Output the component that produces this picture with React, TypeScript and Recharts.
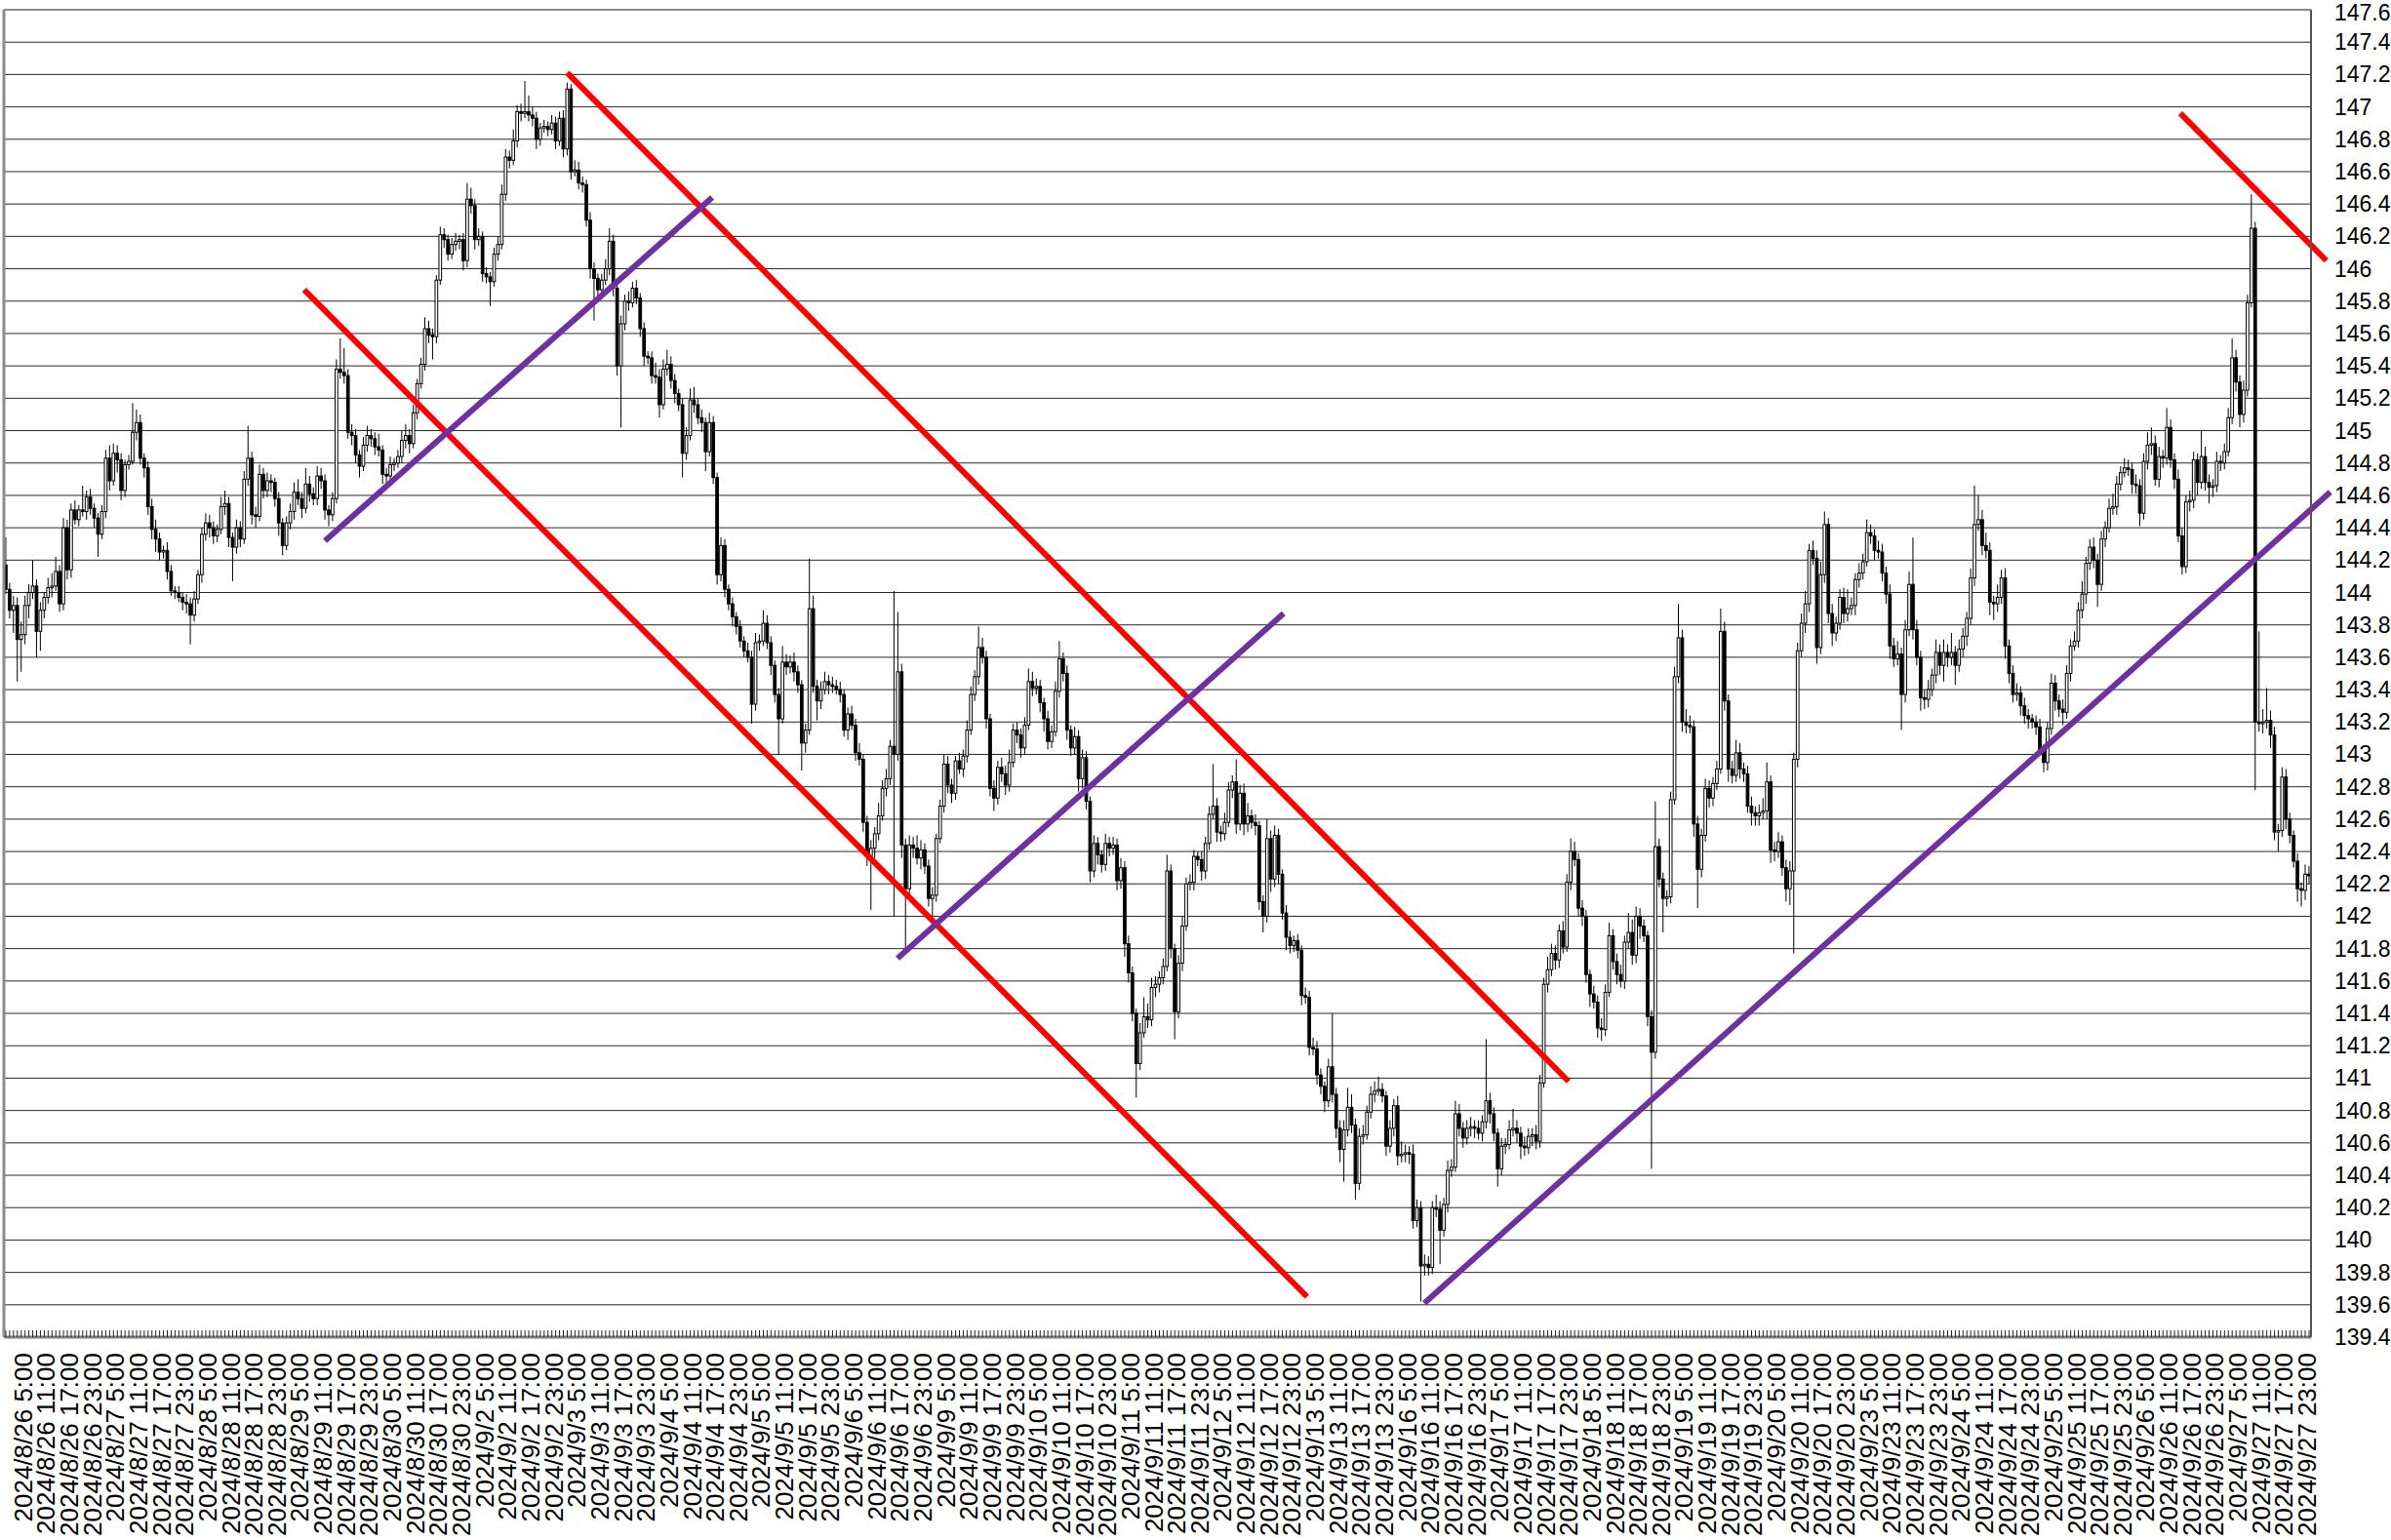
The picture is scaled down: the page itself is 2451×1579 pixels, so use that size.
import { Bar, CartesianGrid, ComposedChart, ReferenceLine, XAxis, YAxis } from "recharts"

// trading days shown on the axis, 24 hourly candles each
const dayLabels = [
  "2024/8/26", "2024/8/27", "2024/8/28", "2024/8/29", "2024/8/30",
  "2024/9/2", "2024/9/3", "2024/9/4", "2024/9/5", "2024/9/6",
  "2024/9/9", "2024/9/10", "2024/9/11", "2024/9/12", "2024/9/13",
  "2024/9/16", "2024/9/17", "2024/9/18", "2024/9/19", "2024/9/20",
  "2024/9/23", "2024/9/24", "2024/9/25", "2024/9/26", "2024/9/27",
]
const labelHours = [5, 11, 17, 23]

const firstOpen = 144.17

// hourly closes, one row per day
const closes = [
  [144.02, 143.89, 143.92, 143.71, 143.74, 143.92, 144.0, 144.04, 143.76, 143.89, 143.97, 144.03, 144.04, 144.13, 143.93, 144.4, 144.14, 144.51, 144.45, 144.51, 144.5, 144.59, 144.52, 144.46],
  [144.36, 144.5, 144.83, 144.69, 144.86, 144.82, 144.63, 144.79, 144.81, 144.99, 145.05, 144.83, 144.77, 144.53, 144.39, 144.33, 144.25, 144.26, 144.13, 144.01, 144.0, 143.97, 143.94, 143.93],
  [143.86, 143.96, 144.11, 144.36, 144.43, 144.4, 144.35, 144.39, 144.53, 144.55, 144.34, 144.28, 144.4, 144.33, 144.7, 144.83, 144.48, 144.47, 144.73, 144.63, 144.69, 144.68, 144.58, 144.43],
  [144.29, 144.43, 144.5, 144.62, 144.58, 144.52, 144.67, 144.61, 144.58, 144.72, 144.69, 144.51, 144.48, 144.58, 145.38, 145.36, 145.34, 144.99, 144.97, 144.85, 144.78, 144.91, 144.97, 144.95],
  [144.9, 144.88, 144.73, 144.72, 144.79, 144.8, 144.84, 144.94, 144.97, 144.92, 145.11, 145.29, 145.41, 145.63, 145.59, 145.58, 145.93, 146.21, 146.18, 146.09, 146.15, 146.17, 146.18, 146.05],
  [146.43, 146.39, 146.18, 146.2, 145.97, 145.95, 145.92, 146.09, 146.15, 146.46, 146.69, 146.67, 146.79, 146.97, 146.96, 146.97, 146.95, 146.93, 146.8, 146.87, 146.88, 146.86, 146.9, 146.79],
  [146.93, 146.74, 147.11, 146.6, 146.61, 146.53, 146.52, 146.3, 146.0, 145.94, 145.87, 145.93, 146.0, 146.17, 145.88, 145.4, 145.66, 145.8, 145.79, 145.88, 145.82, 145.63, 145.46, 145.45],
  [145.34, 145.33, 145.16, 145.38, 145.41, 145.31, 145.23, 145.16, 144.86, 144.97, 145.19, 145.16, 145.08, 145.05, 144.87, 145.05, 144.71, 144.11, 144.29, 144.02, 143.93, 143.85, 143.79, 143.7],
  [143.64, 143.6, 143.31, 143.69, 143.7, 143.81, 143.69, 143.55, 143.37, 143.22, 143.57, 143.54, 143.57, 143.51, 143.43, 143.07, 143.15, 143.9, 143.42, 143.33, 143.4, 143.45, 143.43, 143.42],
  [143.4, 143.37, 143.15, 143.25, 143.18, 143.01, 142.97, 142.58, 142.37, 142.42, 142.51, 142.62, 142.79, 142.85, 143.05, 143.0, 143.51, 142.44, 142.17, 142.44, 142.42, 142.36, 142.41, 142.31],
  [142.11, 142.13, 142.48, 142.68, 142.94, 142.81, 142.76, 142.96, 142.91, 142.99, 143.15, 143.37, 143.48, 143.66, 143.6, 143.22, 142.79, 142.73, 142.92, 142.88, 142.81, 142.95, 143.15, 143.12],
  [143.04, 143.18, 143.45, 143.41, 143.42, 143.32, 143.22, 143.08, 143.14, 143.39, 143.59, 143.5, 143.15, 143.04, 143.11, 142.85, 142.98, 142.71, 142.28, 142.45, 142.38, 142.32, 142.45, 142.42],
  [142.44, 142.22, 142.3, 141.83, 141.65, 141.4, 141.09, 141.28, 141.38, 141.36, 141.56, 141.58, 141.62, 141.69, 142.28, 141.8, 141.41, 141.71, 141.94, 142.2, 142.21, 142.37, 142.35, 142.28],
  [142.45, 142.63, 142.68, 142.52, 142.51, 142.58, 142.78, 142.83, 142.57, 142.76, 142.57, 142.62, 142.58, 142.56, 142.09, 142.0, 142.48, 142.23, 142.5, 142.26, 142.02, 141.87, 141.82, 141.85],
  [141.79, 141.51, 141.5, 141.19, 141.18, 141.02, 140.95, 140.86, 141.07, 140.9, 140.69, 140.56, 140.68, 140.82, 140.71, 140.35, 140.64, 140.65, 140.79, 140.9, 140.92, 140.93, 140.89, 140.58],
  [140.69, 140.83, 140.52, 140.53, 140.54, 140.53, 140.12, 140.2, 139.84, 139.85, 139.83, 140.2, 140.19, 140.06, 140.22, 140.43, 140.45, 140.78, 140.69, 140.63, 140.69, 140.7, 140.69, 140.66],
  [140.73, 140.86, 140.78, 140.66, 140.44, 140.58, 140.59, 140.68, 140.69, 140.66, 140.58, 140.57, 140.64, 140.65, 140.61, 140.97, 141.58, 141.67, 141.77, 141.73, 141.91, 141.81, 142.21, 142.4],
  [142.35, 142.05, 142.0, 141.64, 141.52, 141.47, 141.31, 141.3, 141.53, 141.88, 141.72, 141.64, 141.6, 141.84, 141.9, 141.76, 142.0, 141.94, 141.88, 141.38, 141.16, 142.43, 142.23, 142.11],
  [142.12, 142.72, 143.48, 143.72, 143.2, 143.18, 143.17, 142.57, 142.29, 142.5, 142.79, 142.73, 142.82, 142.91, 143.76, 143.33, 142.91, 142.87, 143.01, 142.91, 142.88, 142.68, 142.64, 142.62],
  [142.64, 142.65, 142.83, 142.41, 142.4, 142.46, 142.3, 142.17, 142.28, 142.97, 143.64, 143.81, 143.93, 144.26, 144.21, 143.66, 144.11, 144.42, 143.87, 143.75, 143.81, 143.97, 143.87, 143.9],
  [143.92, 144.08, 144.12, 144.19, 144.37, 144.35, 144.26, 144.25, 144.12, 143.99, 143.67, 143.59, 143.62, 143.37, 143.77, 144.05, 143.77, 143.6, 143.35, 143.34, 143.4, 143.49, 143.63, 143.55],
  [143.63, 143.6, 143.63, 143.55, 143.65, 143.73, 143.84, 144.09, 144.42, 144.45, 144.29, 144.26, 143.94, 143.93, 143.97, 144.09, 143.67, 143.5, 143.37, 143.38, 143.3, 143.24, 143.22, 143.2],
  [143.17, 143.03, 142.95, 143.16, 143.44, 143.33, 143.28, 143.26, 143.5, 143.67, 143.7, 143.89, 143.99, 144.18, 144.28, 144.2, 144.05, 144.33, 144.4, 144.52, 144.53, 144.67, 144.74, 144.77],
  [144.76, 144.67, 144.66, 144.49, 144.81, 144.91, 144.92, 144.7, 144.84, 144.83, 145.02, 144.82, 144.7, 144.35, 144.16, 144.56, 144.57, 144.82, 144.68, 144.84, 144.68, 144.65, 144.66, 144.81],
  [144.8, 144.87, 145.08, 145.45, 145.3, 145.1, 145.25, 145.79, 146.25, 143.2, 143.19, 143.2, 143.21, 143.12, 142.52, 142.53, 142.86, 142.6, 142.5, 142.34, 142.17, 142.16, 142.26, 142.25],
]

// wick above the body, in pips (0.01 yen)
const upperWick = [
  [17, 4, 6, 5, 8, 6, 5, 16, 4, 5, 3, 6, 8, 9, 4, 6, 5, 4, 6, 3, 15, 4, 5, 3],
  [3, 4, 5, 8, 6, 5, 4, 3, 4, 18, 8, 5, 3, 4, 5, 6, 4, 3, 5, 4, 3, 4, 3, 5],
  [4, 5, 3, 4, 6, 5, 4, 3, 6, 8, 4, 3, 5, 4, 5, 20, 4, 5, 6, 4, 5, 4, 3, 4],
  [3, 4, 5, 6, 8, 4, 10, 5, 4, 6, 5, 4, 3, 4, 6, 19, 15, 4, 5, 4, 3, 5, 6, 4],
  [4, 8, 3, 4, 5, 3, 4, 6, 7, 4, 5, 3, 4, 7, 5, 4, 3, 5, 4, 3, 4, 5, 3, 4],
  [10, 7, 4, 5, 3, 4, 3, 4, 5, 6, 5, 4, 7, 4, 5, 19, 10, 5, 4, 3, 4, 3, 5, 4],
  [4, 5, 4, 3, 6, 5, 4, 3, 5, 4, 3, 4, 6, 8, 4, 3, 5, 4, 6, 4, 5, 3, 4, 3],
  [4, 8, 5, 6, 9, 5, 4, 3, 4, 5, 7, 8, 4, 5, 3, 6, 4, 3, 5, 4, 3, 4, 3, 4],
  [3, 5, 4, 6, 4, 8, 5, 4, 3, 4, 10, 5, 4, 6, 4, 3, 4, 31, 8, 4, 5, 6, 4, 5],
  [4, 5, 3, 4, 5, 4, 6, 3, 4, 5, 4, 8, 5, 6, 4, 96, 37, 5, 4, 6, 5, 8, 6, 4],
  [4, 5, 3, 4, 6, 5, 4, 3, 5, 4, 6, 5, 4, 13, 6, 4, 3, 5, 4, 6, 5, 8, 4, 5],
  [4, 5, 8, 6, 5, 4, 3, 5, 4, 6, 11, 4, 5, 3, 6, 4, 5, 4, 3, 5, 4, 3, 6, 4],
  [5, 4, 6, 4, 5, 4, 3, 6, 12, 8, 6, 5, 4, 5, 10, 4, 3, 5, 6, 4, 5, 4, 3, 5],
  [4, 5, 26, 5, 4, 6, 5, 4, 14, 5, 6, 8, 4, 5, 3, 4, 12, 5, 6, 4, 3, 5, 4, 3],
  [4, 3, 5, 4, 6, 5, 4, 3, 5, 33, 4, 5, 6, 12, 8, 4, 5, 6, 4, 5, 6, 8, 4, 3],
  [5, 4, 6, 8, 5, 4, 6, 5, 4, 6, 5, 4, 8, 5, 4, 6, 5, 8, 6, 4, 5, 6, 4, 5],
  [4, 38, 5, 4, 3, 5, 4, 6, 12, 5, 4, 6, 5, 4, 6, 5, 4, 8, 6, 5, 4, 6, 5, 8],
  [6, 4, 5, 4, 3, 5, 4, 6, 5, 8, 4, 5, 6, 4, 12, 8, 6, 5, 4, 3, 4, 28, 5, 4],
  [4, 5, 6, 21, 5, 8, 6, 4, 5, 4, 6, 5, 4, 5, 14, 6, 4, 5, 8, 6, 4, 5, 6, 4],
  [5, 8, 12, 4, 5, 6, 4, 5, 6, 4, 5, 6, 8, 4, 6, 5, 8, 8, 4, 6, 4, 5, 6, 12],
  [5, 4, 6, 5, 8, 5, 4, 6, 5, 4, 6, 5, 8, 4, 6, 8, 29, 6, 4, 5, 6, 4, 8, 5],
  [8, 5, 12, 4, 6, 5, 4, 6, 24, 15, 6, 8, 5, 4, 8, 5, 6, 4, 5, 6, 4, 5, 4, 3],
  [4, 5, 3, 4, 6, 5, 4, 6, 5, 4, 6, 5, 8, 4, 5, 6, 4, 5, 4, 6, 8, 5, 4, 6],
  [5, 4, 6, 4, 5, 8, 10, 5, 6, 4, 12, 5, 4, 6, 5, 4, 6, 5, 4, 16, 6, 5, 4, 6],
  [4, 5, 6, 12, 5, 4, 6, 5, 21, 4, 56, 8, 20, 6, 5, 4, 6, 5, 4, 3, 5, 4, 6, 5],
]

// wick below the body, in pips
const lowerWick = [
  [3, 5, 14, 26, 20, 6, 8, 4, 16, 12, 5, 4, 6, 3, 5, 4, 6, 5, 3, 4, 3, 5, 4, 6],
  [14, 3, 4, 6, 3, 8, 6, 4, 3, 2, 5, 4, 6, 5, 6, 8, 5, 4, 5, 3, 4, 3, 5, 6],
  [18, 4, 3, 5, 4, 6, 5, 4, 3, 5, 6, 21, 4, 5, 3, 4, 6, 7, 3, 5, 4, 6, 5, 8],
  [6, 3, 4, 5, 4, 6, 3, 5, 4, 4, 5, 6, 7, 4, 3, 4, 5, 4, 6, 5, 7, 3, 4, 5],
  [5, 4, 6, 5, 3, 4, 3, 4, 5, 6, 3, 4, 3, 4, 5, 14, 4, 3, 5, 4, 3, 4, 5, 6],
  [4, 5, 6, 4, 5, 4, 15, 3, 4, 3, 4, 5, 3, 4, 5, 3, 4, 5, 6, 4, 3, 4, 3, 5],
  [3, 5, 4, 5, 3, 4, 5, 4, 6, 26, 5, 4, 3, 4, 5, 6, 38, 4, 5, 3, 4, 5, 6, 4],
  [5, 4, 8, 3, 4, 5, 6, 4, 15, 4, 3, 5, 4, 6, 12, 3, 4, 6, 4, 5, 4, 6, 5, 4],
  [4, 3, 12, 4, 5, 3, 4, 6, 5, 22, 3, 5, 4, 6, 5, 17, 6, 3, 4, 12, 5, 3, 6, 4],
  [3, 5, 4, 6, 3, 5, 4, 6, 6, 33, 6, 4, 3, 5, 4, 100, 4, 8, 37, 5, 6, 4, 7, 5],
  [5, 11, 4, 3, 4, 5, 6, 4, 3, 5, 4, 3, 4, 5, 4, 6, 5, 8, 4, 5, 6, 4, 3, 5],
  [6, 4, 3, 5, 4, 6, 8, 5, 4, 3, 4, 5, 6, 5, 4, 8, 6, 5, 7, 4, 6, 5, 4, 5],
  [4, 6, 5, 8, 6, 5, 21, 4, 3, 5, 4, 6, 5, 4, 3, 6, 17, 4, 5, 3, 4, 5, 4, 6],
  [5, 4, 3, 6, 5, 4, 3, 5, 6, 4, 7, 5, 4, 6, 5, 10, 4, 8, 5, 6, 4, 8, 5, 4],
  [5, 6, 4, 5, 4, 6, 5, 7, 4, 5, 6, 8, 20, 4, 5, 10, 4, 5, 3, 4, 5, 3, 4, 6],
  [4, 5, 6, 4, 5, 6, 5, 4, 22, 6, 5, 4, 5, 21, 4, 5, 4, 3, 5, 6, 4, 5, 6, 4],
  [5, 4, 6, 5, 11, 4, 5, 3, 4, 6, 8, 5, 4, 6, 5, 4, 3, 5, 4, 6, 5, 4, 3, 5],
  [4, 5, 6, 5, 8, 4, 6, 7, 4, 3, 5, 6, 4, 5, 4, 6, 5, 8, 4, 6, 72, 4, 5, 21],
  [5, 4, 3, 4, 6, 5, 4, 8, 24, 5, 4, 6, 5, 4, 3, 6, 8, 5, 4, 6, 5, 4, 8, 6],
  [6, 4, 5, 8, 6, 4, 5, 8, 10, 51, 5, 4, 6, 5, 4, 10, 4, 5, 6, 8, 5, 4, 6, 5],
  [4, 6, 5, 4, 3, 5, 6, 4, 5, 6, 8, 5, 4, 22, 5, 4, 6, 5, 8, 6, 5, 4, 5, 6],
  [10, 6, 5, 12, 4, 5, 6, 4, 5, 4, 6, 5, 8, 10, 5, 4, 8, 6, 5, 4, 6, 5, 6, 4],
  [5, 4, 6, 5, 4, 6, 5, 8, 4, 5, 3, 4, 5, 6, 4, 5, 14, 4, 5, 3, 4, 5, 4, 3],
  [4, 6, 5, 8, 4, 5, 6, 4, 5, 6, 4, 5, 6, 4, 5, 4, 6, 5, 8, 4, 5, 10, 6, 4],
  [5, 4, 3, 4, 6, 8, 5, 4, 3, 42, 5, 6, 4, 8, 5, 12, 4, 6, 5, 4, 8, 10, 6, 5],
]

const yTicks = [
  139.4, 139.6, 139.8, 140, 140.2, 140.4, 140.6, 140.8, 141, 141.2, 141.4, 141.6, 141.8, 142,
  142.2, 142.4, 142.6, 142.8, 143, 143.2, 143.4, 143.6, 143.8, 144, 144.2, 144.4, 144.6, 144.8,
  145, 145.2, 145.4, 145.6, 145.8, 146, 146.2, 146.4, 146.6, 146.8, 147, 147.2, 147.4, 147.6,
]

// drawn trend lines: [startIndex, startPrice, endIndex, endPrice]
const redLines = [
  [146.0, 147.21, 406.4, 140.98],
  [77.6, 145.87, 338.4, 139.65],
  [565.5, 146.96, 603.5, 146.05],
]
const purpleLines = [
  [83.0, 144.32, 183.7, 146.44],
  [231.9, 141.74, 332.3, 143.87],
  [368.9, 139.61, 604.5, 144.62],
]

const FONT = "'Liberation Sans', Arial, sans-serif"

const allCloses = closes.flat()
const allUp = upperWick.flat()
const allDown = lowerWick.flat()

const candles = allCloses.map((close, i) => {
  const open = i === 0 ? firstOpen : allCloses[i - 1]
  const high = Math.max(open, close) + (allUp[i] ?? 0) / 100
  const low = Math.min(open, close) - (allDown[i] ?? 0) / 100
  const hour = i % 24
  const day = dayLabels[Math.floor(i / 24)]
  return {
    idx: i,
    open,
    close,
    high,
    low,
    range: [low, high],
    label: labelHours.includes(hour) ? `${day} ${hour}:00` : "",
  }
})

const formatPrice = (v: number) => String(Number(v.toFixed(1)))

function CandleShape(props: any) {
  const { x, y, width, height, payload } = props
  if (!payload) return null
  const cx = x + width / 2
  const yTop = Math.min(y, y + height)
  const yBot = Math.max(y, y + height)
  const span = payload.high - payload.low || 1e-6
  const toY = (v: number) => yTop + ((payload.high - v) / span) * (yBot - yTop)
  const bodyTop = toY(Math.max(payload.open, payload.close))
  const bodyBot = toY(Math.min(payload.open, payload.close))
  const rising = payload.close >= payload.open
  return (
    <g>
      <line x1={cx} x2={cx} y1={yTop} y2={yBot} stroke="#000" strokeWidth={1} />
      <rect
        x={cx - 1.35}
        y={bodyTop}
        width={2.7}
        height={Math.max(bodyBot - bodyTop, 0.8)}
        fill={rising ? "#fff" : "#000"}
        stroke="#000"
        strokeWidth={1}
      />
    </g>
  )
}

function TimeTick(props: any) {
  const { x, y, payload } = props
  const item = candles[payload.value]
  const label = item ? item.label : ""
  const tx = x - 2
  const ty = y + 16
  return (
    <g>
      <line x1={x} x2={x} y1={y - 7} y2={y} stroke="#222" strokeWidth={1} />
      {label ? (
        <text
          x={tx}
          y={ty}
          transform={`rotate(-90 ${tx} ${ty})`}
          textAnchor="end"
          dominantBaseline="central"
          fontSize={26}
          fontFamily={FONT}
          fill="#000"
        >
          {label}
        </text>
      ) : null}
    </g>
  )
}

function PriceTick(props: any) {
  const { x, y, payload } = props
  // keep the topmost label inside the picture
  const ty = Math.max(y, 13)
  return (
    <text x={x + 24} y={ty} textAnchor="start" dominantBaseline="central" fontSize={23} fontFamily={FONT} fill="#000">
      {formatPrice(payload.value)}
    </text>
  )
}

export default function App() {
  return (
    <div style={{ position: "absolute", left: 0, top: 0, width: 2451, height: 1579, background: "#fff" }}>
      <ComposedChart width={2451} height={1579} data={candles} margin={{ top: 10, right: 0, bottom: 0, left: 4 }}>
        <XAxis
          xAxisId="cat"
          dataKey="idx"
          type="category"
          interval={0}
          height={208}
          tickLine={false}
          tickSize={0}
          tickMargin={0}
          axisLine={{ stroke: "#7f7f7f", strokeWidth: 3 }}
          tick={TimeTick}
        />
        <XAxis xAxisId="num" dataKey="idx" type="number" domain={[-0.5, 599.5]} hide allowDataOverflow />
        <YAxis
          orientation="right"
          width={82}
          domain={[139.4, 147.6]}
          ticks={yTicks}
          interval={0}
          allowDataOverflow
          tickLine={false}
          tickSize={0}
          tickMargin={0}
          axisLine={{ stroke: "#555", strokeWidth: 2 }}
          tick={PriceTick}
        />
        <CartesianGrid xAxisId="cat" vertical={false} stroke="#2a2a2a" />
        <ReferenceLine xAxisId="num" y={147.6} stroke="#8c8c8c" strokeWidth={2} ifOverflow="visible" />
        <ReferenceLine xAxisId="num" x={-0.5} stroke="#8c8c8c" strokeWidth={3} ifOverflow="visible" />
        <Bar xAxisId="cat" dataKey="range" shape={(p: any) => <CandleShape {...p} />} isAnimationActive={false} />
        {redLines.map(([x1, y1, x2, y2], k) => (
          <ReferenceLine
            key={`red-${k}`}
            xAxisId="num"
            segment={[{ x: x1, y: y1 }, { x: x2, y: y2 }]}
            stroke="#ff0000"
            strokeWidth={6}
            ifOverflow="visible"
          />
        ))}
        {purpleLines.map(([x1, y1, x2, y2], k) => (
          <ReferenceLine
            key={`purple-${k}`}
            xAxisId="num"
            segment={[{ x: x1, y: y1 }, { x: x2, y: y2 }]}
            stroke="#7030a0"
            strokeWidth={6}
            ifOverflow="visible"
          />
        ))}
      </ComposedChart>
    </div>
  )
}
